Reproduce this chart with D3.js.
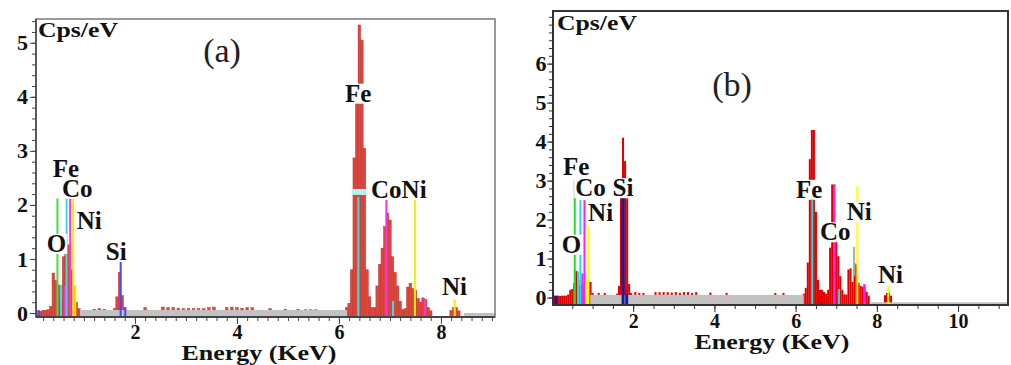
<!doctype html>
<html>
<head>
<meta charset="utf-8">
<style>
body { margin: 0; background: #fff; }
svg text { font-family: "Liberation Serif", "Tinos", "DejaVu Serif", "Noto Serif", serif; }
</style>
<script src="https://d3js.org/d3.v7.min.js"></script>
</head>
<body>
<svg width="1011" height="365" font-family="Liberation Serif, DejaVu Serif, serif"></svg>
<script>
// ---------- panel (a) ----------
var xLabA = [2, 4, 6, 8];
var yLabA = [0, 1, 2, 3, 4, 5];
// [energy keV, cps/eV]
var specA = [
  [0.10,0.04],[0.15,0.03],[0.20,0.05],[0.25,0.05],[0.30,0.06],[0.35,0.12],[0.40,0.74],[0.45,0.6],
  [0.50,0.52],[0.55,0.25],[0.60,1.04],[0.65,1.26],[0.70,1.26],[0.75,0.8],[0.80,0.5],[0.85,0.2],
  [0.90,0.08],[0.95,0.04],
  [1.20,0.07],[1.30,0.08],[1.40,0.07],
  [1.60,0.08],[1.65,0.3],[1.70,0.75],[1.75,0.32],[1.80,0.1],
  [2.20,0.1],[2.55,0.11],[2.65,0.1],[2.75,0.1],[2.85,0.09],[2.95,0.08],[3.05,0.08],[3.15,0.08],
  [3.25,0.08],[3.35,0.08],[3.45,0.1],[3.55,0.11],[3.80,0.1],[3.90,0.11],[4.00,0.1],[4.10,0.09],
  [4.20,0.1],[4.30,0.1],[4.65,0.08],[4.95,0.07],[5.20,0.07],[5.35,0.06],[5.45,0.06],[5.55,0.06],
  [6.15,0.1],[6.20,0.18],[6.25,0.8],[6.30,2.87],[6.35,3.9],[6.40,5.33],[6.45,5.05],[6.50,3.05],
  [6.55,0.8],[6.60,0.3],[6.65,0.1],[6.70,0.1],
  [6.75,0.5],[6.80,0.9],[6.85,1.2],[6.90,1.6],[6.95,1.85],[7.00,1.72],[7.05,1.04],[7.10,0.75],
  [7.15,0.5],[7.20,0.22],[7.25,0.06],
  [7.30,0.08],[7.35,0.48],[7.40,0.55],[7.45,0.45],[7.50,0.42],[7.55,0.27],[7.60,0.2],[7.65,0.28],
  [7.70,0.25],[7.75,0.1],[7.80,0.04],
  [8.20,0.05],[8.25,0.1],[8.30,0.1],[8.35,0.04]
];
// element lines [energy, height, element]
var markA = [
  [0.48,2.12,"O"],[0.55,0.52,"Fe"],[0.63,0.5,"Co"],[0.66,2.12,"Fe"],[0.73,2.12,"Co"],
  [0.79,2.12,"Ni"],[0.83,0.52,"Ni"],[0.12,0.05,"Si"],[1.72,0.95,"Si"],[1.81,0.1,"Si"],
  [6.38,2.15,"Fe"],[6.93,2.12,"Co"],[7.06,0.22,"Fe"],[7.49,2.12,"Ni"],[7.69,0.25,"Co"],[8.27,0.25,"Ni"]
];
// peak labels [text, energy, cps]
var labA = [
  ["O",0.27,1.13],["Fe",0.39,2.52],["Co",0.57,2.15],["Ni",0.86,1.56],["Si",1.43,0.98],
  ["Fe",6.12,3.91],["CoNi",6.63,2.13],["Ni",8.02,0.33]
];
var bandA = [[0.92,6.16,0.055],[8.45,9.06,0.0]];
var tagA = [[6.25,6.54,2.24]];

// ---------- panel (b) ----------
var xLabB = [2, 4, 6, 8, 10];
var yLabB = [0, 1, 2, 3, 4, 5, 6];
var specB = [
  [0.05,0.05],[0.10,0.04],[0.15,0.05],[0.20,0.04],[0.25,0.05],[0.30,0.05],[0.35,0.05],[0.40,0.08],
  [0.45,0.2],[0.50,0.22],[0.55,0.38],[0.60,0.68],[0.65,0.45],[0.70,0.3],[0.75,0.35],[0.80,0.2],
  [0.85,0.35],[0.90,0.42],[0.95,0.4],[1.00,0.12],[1.05,0.05],
  [1.15,0.12],[1.30,0.12],
  [1.60,0.1],[1.65,0.3],[1.70,2.55],[1.75,4.1],[1.80,3.5],[1.85,2.55],[1.90,0.35],[1.95,0.12],
  [2.05,0.14],[2.15,0.12],[2.25,0.12],[2.55,0.14],[2.65,0.14],[2.75,0.14],[2.85,0.14],[2.95,0.13],
  [3.05,0.14],[3.15,0.12],[3.25,0.14],[3.35,0.14],[3.45,0.12],[3.55,0.14],[3.90,0.13],[4.30,0.12],
  [5.50,0.12],[5.70,0.12],
  [6.20,0.1],[6.25,0.25],[6.30,0.9],[6.35,3.55],[6.40,4.3],[6.45,4.3],[6.50,2.2],[6.55,0.45],
  [6.60,0.2],[6.65,0.2],[6.70,0.15],[6.75,0.1],
  [6.80,0.2],[6.85,1.28],[6.90,2.9],[6.95,2.9],[7.00,1.5],[7.05,1.06],[7.10,0.55],[7.15,0.2],[7.20,0.08],
  [7.25,0.08],[7.30,0.72],[7.35,0.75],[7.40,0.4],[7.45,0.88],[7.50,0.85],[7.55,0.38],[7.60,0.3],
  [7.65,0.28],[7.70,0.3],[7.75,0.15],[7.80,0.05],
  [8.20,0.06],[8.25,0.12],[8.30,0.12],[8.35,0.05]
];
var markB = [
  [0.10,0.05,"Si"],[0.56,3.03,"O"],[0.64,0.67,"Fe"],[0.70,2.5,"Fe"],[0.75,0.62,"Co"],[0.80,2.5,"Co"],
  [0.84,0.45,"Ni"],[0.89,1.83,"Ni"],[1.75,2.56,"Si"],[1.84,0.1,"Si"],
  [6.41,2.5,"Fe"],[6.95,2.9,"Co"],[7.07,0.22,"Fe"],[7.44,1.3,"X",0.55],[7.52,2.85,"Ni"],
  [7.69,0.35,"Co"],[8.28,0.3,"Ni"]
];
var labB = [
  ["O",0.24,1.15],["Fe",0.27,3.15],["Co",0.57,2.6],["Ni",0.89,1.96],["Si",1.49,2.6],
  ["Fe",6.01,2.56],["Co",6.6,1.47],["Ni",7.26,2.0],["Ni",8.03,0.38]
];
var bandB = [[0.94,6.2,0.07],[7.85,11.23,-0.12]];
var tagB = [];

var svg = d3.select("svg");
var serif = "Liberation Serif, Tinos, DejaVu Serif, serif";

function panel(o) {
  var x = d3.scaleLinear().domain(o.xd).range([o.l, o.r]);
  var y = d3.scaleLinear().domain(o.yd).range([o.b, o.t]);
  var y0 = o.yd[0], bw = 0.05;
  var g = svg.append("g");

  g.selectAll(".bar").data(o.spec).enter().append("rect")
    .attr("x", d => x(d[0] - bw / 2))
    .attr("width", d => x(d[0] + bw / 2) - x(d[0] - bw / 2))
    .attr("y", d => y(d[1]))
    .attr("height", d => y(y0) - y(d[1]))
    .attr("fill", o.red)
    .attr("stroke", o.redEdge)
    .attr("stroke-width", o.redEdge == "none" ? 0 : 0.5);

  g.selectAll(".band").data(o.band).enter().append("rect")
    .attr("x", d => x(d[0]))
    .attr("width", d => x(d[1]) - x(d[0]))
    .attr("y", d => y(d[2]))
    .attr("height", d => y(y0) - y(d[2]))
    .attr("fill", "#c2c2c2");

  g.selectAll(".tag").data(o.tag).enter().append("rect")
    .attr("x", d => x(d[0]))
    .attr("width", d => x(d[1]) - x(d[0]))
    .attr("y", d => y(d[2]) - 3)
    .attr("height", 6)
    .attr("fill", "#b4f2f2");

  g.selectAll(".mark").data(o.mark).enter().append("line")
    .attr("x1", d => x(d[0])).attr("x2", d => x(d[0]))
    .attr("y1", d => y(d.length > 3 ? d[3] : y0))
    .attr("y2", d => y(d[1]))
    .attr("stroke", d => o.col[d[2]])
    .attr("stroke-width", d => (o.wide[d[2]] || 2));

  // peak labels with white boxes
  var lab = g.selectAll(".lab").data(o.lab).enter().append("g");
  lab.append("rect").attr("fill", "#fff");
  lab.append("text")
    .attr("x", d => x(d[1])).attr("y", d => y(d[2]))
    .attr("font-family", serif)
    .attr("font-size", 25).attr("font-weight", "bold").attr("fill", "#111")
    .text(d => d[0]);
  lab.each(function (d) {
    var t = d3.select(this).select("text");
    var bb = t.node().getBBox();
    d3.select(this).select("rect")
      .attr("x", bb.x - 1).attr("width", bb.width + 2)
      .attr("y", y(d[2]) - 18).attr("height", 20);
  });

  // frame
  g.append("rect").attr("x", o.l).attr("y", o.t)
    .attr("width", o.r - o.l).attr("height", o.b - o.t)
    .attr("fill", "none").attr("stroke", o.frame).attr("stroke-width", o.fw);
  g.append("line").attr("x1", o.l).attr("x2", o.r).attr("y1", o.b).attr("y2", o.b)
    .attr("stroke", o.axis).attr("stroke-width", 2);
  g.append("line").attr("x1", o.l).attr("x2", o.l).attr("y1", o.t).attr("y2", o.b)
    .attr("stroke", o.axis).attr("stroke-width", 1.5);

  // ticks
  function clean(s) { s.select(".domain").remove(); s.selectAll("line").attr("stroke", o.axis); }
  g.append("g").attr("transform", "translate(0," + o.b + ")")
    .call(d3.axisBottom(x).tickValues(o.xMinor).tickSize(4).tickFormat("")).call(clean);
  g.append("g").attr("transform", "translate(" + o.l + ",0)")
    .call(d3.axisLeft(y).tickValues(o.yMinor).tickSize(4).tickFormat("")).call(clean);

  var xa = g.append("g").attr("transform", "translate(0," + o.b + ")")
    .call(d3.axisBottom(x).tickValues(o.xLab).tickSize(7).tickPadding(o.xPad).tickFormat(d3.format("d")))
    .call(clean);
  var ya = g.append("g").attr("transform", "translate(" + o.l + ",0)")
    .call(d3.axisLeft(y).tickValues(o.yLab).tickSize(6).tickPadding(o.yPad).tickFormat(d3.format("d")))
    .call(clean);
  xa.attr("font-family", serif).attr("font-size", 20);
  xa.selectAll("text").attr("font-family", serif).attr("font-size", 20)
    .attr("font-weight", "bold").attr("fill", "#111");
  ya.attr("font-family", serif).attr("font-size", 22);
  ya.selectAll("text").attr("font-family", serif).attr("font-size", 22)
    .attr("font-weight", "bold").attr("fill", "#111");

  // titles
  g.append("text").attr("x", o.l + o.cpsDx).attr("y", o.t + o.cpsDy)
    .attr("font-family", serif)
    .attr("font-size", 20).attr("font-weight", "bold").attr("fill", "#111")
    .attr("textLength", 80).attr("lengthAdjust", "spacingAndGlyphs")
    .text("Cps/eV");
  g.append("text").attr("x", o.tagX).attr("y", o.tagY)
    .attr("font-family", serif)
    .attr("text-anchor", "middle").attr("font-size", 34).attr("fill", "#222")
    .text(o.name);
  g.append("text").attr("x", o.titleX).attr("y", o.titleY)
    .attr("font-family", serif)
    .attr("text-anchor", "middle").attr("font-size", 21).attr("font-weight", "bold").attr("fill", "#111")
    .attr("textLength", 155).attr("lengthAdjust", "spacingAndGlyphs")
    .text("Energy (KeV)");
}

panel({
  l: 36, r: 495, t: 19, b: 317, xd: [0.06, 9.06], yd: [-0.074, 5.44],
  spec: specA, mark: markA, lab: labA, band: bandA, tag: tagA,
  red: "#e0463c", redEdge: "#b8352c",
  col: { O: "#44dd44", Fe: "#33e0e8", Co: "#ff33e6", Ni: "#f0f000", Si: "#4848ff", X: "#aaaaaa" },
  wide: {},
  frame: "#7a7a7a", fw: 1.5, axis: "#444",
  xMinor: d3.range(0.2, 9.01, 0.2), yMinor: d3.range(0, 5.41, 0.2),
  xLab: xLabA, yLab: yLabA, xPad: 1, yPad: 2,
  cpsDx: 2, cpsDy: 18, tagX: 222, tagY: 62, name: "(a)", titleX: 259, titleY: 360
});

panel({
  l: 553, r: 1008, t: 11, b: 305, xd: [0.025, 11.23], yd: [-0.19, 7.35],
  spec: specB, mark: markB, lab: labB, band: bandB, tag: tagB,
  red: "#e00000", redEdge: "none",
  col: { O: "#22dd22", Fe: "#22dddd", Co: "#ff22ee", Ni: "#ffff00", Si: "#1a1a99", X: "#aaaaaa" },
  wide: { Si: 3 },
  frame: "#333", fw: 2, axis: "#333",
  xMinor: d3.range(0.5, 11.01, 0.5), yMinor: d3.range(0, 7.21, 0.2),
  xLab: xLabB, yLab: yLabB, xPad: 2, yPad: 0.5,
  cpsDx: 4, cpsDy: 19, tagX: 732, tagY: 96, name: "(b)", titleX: 772, titleY: 349
});
</script>
</body>
</html>
